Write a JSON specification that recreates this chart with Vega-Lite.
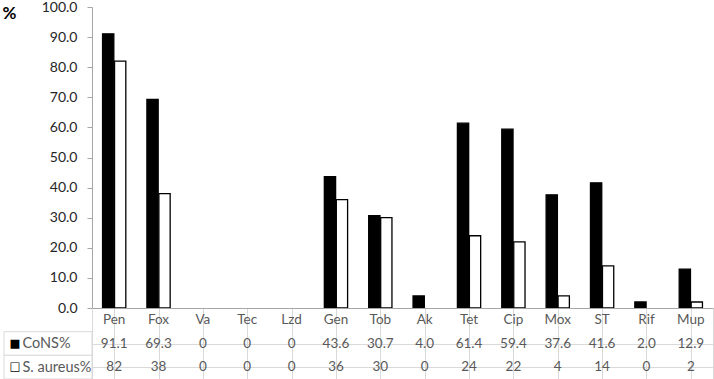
{
  "$schema": "https://vega.github.io/schema/vega-lite/v6.json",
  "padding": {"left": 2, "top": 0, "right": 0, "bottom": 0},
  "config": {
    "view": {"stroke": null},
    "font": "Lato",
    "text": {"font": "Lato"}
  },
  "datasets": {
    "bars": [
      {"ab": "Pen", "series": "CoNS%", "value": 91.1, "label": "91.1"},
      {"ab": "Pen", "series": "S. aureus%", "value": 82, "label": "82"},
      {"ab": "Fox", "series": "CoNS%", "value": 69.3, "label": "69.3"},
      {"ab": "Fox", "series": "S. aureus%", "value": 38, "label": "38"},
      {"ab": "Va", "series": "CoNS%", "value": 0, "label": "0"},
      {"ab": "Va", "series": "S. aureus%", "value": 0, "label": "0"},
      {"ab": "Tec", "series": "CoNS%", "value": 0, "label": "0"},
      {"ab": "Tec", "series": "S. aureus%", "value": 0, "label": "0"},
      {"ab": "Lzd", "series": "CoNS%", "value": 0, "label": "0"},
      {"ab": "Lzd", "series": "S. aureus%", "value": 0, "label": "0"},
      {"ab": "Gen", "series": "CoNS%", "value": 43.6, "label": "43.6"},
      {"ab": "Gen", "series": "S. aureus%", "value": 36, "label": "36"},
      {"ab": "Tob", "series": "CoNS%", "value": 30.7, "label": "30.7"},
      {"ab": "Tob", "series": "S. aureus%", "value": 30, "label": "30"},
      {"ab": "Ak", "series": "CoNS%", "value": 4.0, "label": "4.0"},
      {"ab": "Ak", "series": "S. aureus%", "value": 0, "label": "0"},
      {"ab": "Tet", "series": "CoNS%", "value": 61.4, "label": "61.4"},
      {"ab": "Tet", "series": "S. aureus%", "value": 24, "label": "24"},
      {"ab": "Cip", "series": "CoNS%", "value": 59.4, "label": "59.4"},
      {"ab": "Cip", "series": "S. aureus%", "value": 22, "label": "22"},
      {"ab": "Mox", "series": "CoNS%", "value": 37.6, "label": "37.6"},
      {"ab": "Mox", "series": "S. aureus%", "value": 4, "label": "4"},
      {"ab": "ST", "series": "CoNS%", "value": 41.6, "label": "41.6"},
      {"ab": "ST", "series": "S. aureus%", "value": 14, "label": "14"},
      {"ab": "Rif", "series": "CoNS%", "value": 2.0, "label": "2.0"},
      {"ab": "Rif", "series": "S. aureus%", "value": 0, "label": "0"},
      {"ab": "Mup", "series": "CoNS%", "value": 12.9, "label": "12.9"},
      {"ab": "Mup", "series": "S. aureus%", "value": 2, "label": "2"}
    ],
    "rows": [
      {"series": "CoNS%"},
      {"series": "S. aureus%"}
    ]
  },
  "columns": 2,
  "spacing": 0,
  "bounds": "flush",
  "align": "each",
  "resolve": {"scale": {"x": "independent", "y": "independent"}},
  "concat": [
    {
      "width": 88,
      "height": 301,
      "data": {"values": [{}]},
      "mark": {"type": "point", "opacity": 0}
    },
    {
      "width": 621,
      "height": 301,
      "data": {"name": "bars"},
      "mark": {"type": "bar", "stroke": "#000000", "strokeWidth": 1.3},
      "encoding": {
        "x": {
          "field": "ab", "type": "nominal",
          "scale": {"domain": ["Pen","Fox","Va","Tec","Lzd","Gen","Tob","Ak","Tet","Cip","Mox","ST","Rif","Mup"], "paddingInner": 0, "paddingOuter": 0},
          "axis": null
        },
        "xOffset": {
          "field": "series", "type": "nominal",
          "scale": {"domain": ["CoNS%", "S. aureus%"], "paddingInner": 0.06, "paddingOuter": 0.88}
        },
        "y": {
          "field": "value", "type": "quantitative",
          "scale": {"domain": [0, 100], "nice": false},
          "axis": {
            "values": [0,10,20,30,40,50,60,70,80,90,100],
            "format": ".1f",
            "grid": false,
            "tickSize": 5,
            "labelPadding": 10,
            "domainColor": "#a6a6a6",
            "tickColor": "#a6a6a6",
            "labelFont": "Lato",
            "labelFontSize": 14,
            "labelColor": "#262626",
            "title": "%",
            "titleAngle": 0,
            "titleX": -90,
            "titleY": 6,
            "titleAlign": "left",
            "titleBaseline": "middle",
            "titleFont": "Lato",
            "titleFontSize": 17,
            "titleFontWeight": "bold",
            "titleColor": "#000000"
          }
        },
        "fill": {
          "field": "series", "type": "nominal",
          "scale": {"domain": ["CoNS%", "S. aureus%"], "range": ["#000000", "#ffffff"]},
          "legend": null
        },
        "strokeOpacity": {"condition": {"test": "datum.value > 0", "value": 1}, "value": 0}
      }
    },
    {
      "width": 88,
      "height": 71,
      "data": {"name": "rows"},
      "mark": {"type": "rect", "fill": "#ffffff", "stroke": "#d9d9d9", "strokeWidth": 1},
      "encoding": {
        "y": {
          "field": "series", "type": "nominal",
          "scale": {"domain": ["Antibiotic", "CoNS%", "S. aureus%"], "paddingInner": 0, "paddingOuter": 0},
          "axis": {
            "orient": "right",
            "offset": -88,
            "values": ["CoNS%", "S. aureus%"],
            "domain": false,
            "ticks": false,
            "grid": false,
            "labelAlign": "left",
            "labelBaseline": "middle",
            "labelPadding": 5,
            "labelFont": "DejaVu Sans",
            "labelFontSize": 11.5,
            "labelColor": "#000000",
            "labelExpr": "datum.value == 'CoNS%' ? '\u25a0' : '\u25a1'",
            "title": null
          }
        }
      }
    },
    {
      "width": 621,
      "height": 71,
      "view": {"stroke": "#d9d9d9"},
      "data": {"name": "bars"},
      "encoding": {
        "x": {
          "field": "ab", "type": "nominal",
          "scale": {"domain": ["Pen","Fox","Va","Tec","Lzd","Gen","Tob","Ak","Tet","Cip","Mox","ST","Rif","Mup"], "paddingInner": 0, "paddingOuter": 0},
          "axis": {
            "orient": "top",
            "bandPosition": 0,
            "grid": true,
            "gridColor": "#d9d9d9",
            "domain": true,
            "domainColor": "#a6a6a6",
            "ticks": false,
            "labels": false,
            "title": null
          }
        }
      },
      "layer": [
        {
          "mark": {"type": "text", "font": "Lato", "fontSize": 13.5, "color": "#595959"},
          "encoding": {
            "y": {
              "field": "series", "type": "nominal",
              "scale": {"domain": ["Antibiotic", "CoNS%", "S. aureus%"], "paddingInner": 0, "paddingOuter": 0},
              "axis": {
                "values": ["CoNS%", "S. aureus%"],
                "bandPosition": 0,
                "grid": true,
                "gridColor": "#d9d9d9",
                "domain": false,
                "ticks": false,
                "labelAlign": "left",
                "labelBaseline": "middle",
                "labelPadding": 70,
                "labelFont": "Lato",
                "labelFontSize": 14.5,
                "labelColor": "#595959",
                "title": null
              }
            },
            "text": {"field": "label"}
          }
        },
        {
          "transform": [{"filter": "datum.series == 'CoNS%'"}],
          "mark": {"type": "text", "font": "Lato", "fontSize": 13.5, "color": "#595959"},
          "encoding": {
            "y": {"datum": "Antibiotic", "type": "nominal"},
            "text": {"field": "ab"}
          }
        }
      ]
    }
  ]
}
